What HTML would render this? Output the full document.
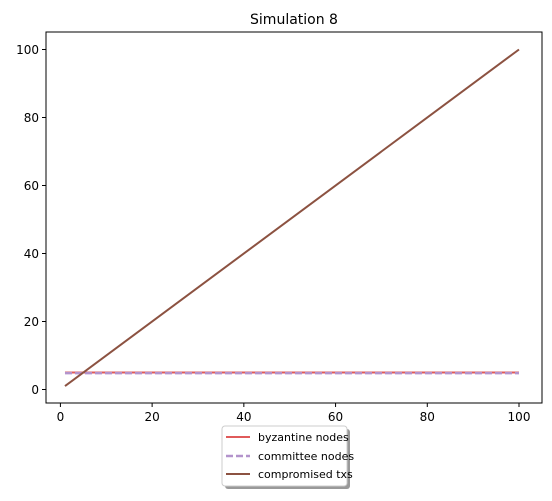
<!DOCTYPE html>
<html><head><meta charset="utf-8"><style>
body{margin:0;background:#fff;font-family:"Liberation Sans","DejaVu Sans",sans-serif}
svg text{font-family:"DejaVu Sans","Liberation Sans",sans-serif}
</style></head><body>
<svg id="c" width="552" height="496" xmlns="http://www.w3.org/2000/svg">
<text x="294" y="24" font-size="14" text-anchor="middle">Simulation 8</text>
<g id="plot"></g>
<rect x="46" y="32" width="496" height="371" fill="none" stroke="#000" stroke-width="1"/>
<g>
<rect x="225" y="429" width="125" height="60" rx="3" fill="#999"/>
<rect x="222" y="426" width="125" height="60" rx="3" fill="#fff" stroke="#ccc"/>
<line x1="226" y1="437" x2="250" y2="437" stroke="#e05a5a" stroke-width="2"/>
<text x="258" y="441" font-size="11">byzantine nodes</text>
<line x1="226" y1="456" x2="250" y2="456" stroke="#b393cc" stroke-width="2.5" stroke-dasharray="7,3"/>
<text x="258" y="460" font-size="11">committee nodes</text>
<line x1="226" y1="474" x2="250" y2="474" stroke="#8c5241" stroke-width="2"/>
<text x="258" y="478" font-size="11">compromised txs</text>
</g>
</svg>
<script>
const xTicks=[0,20,40,60,80,100];
const yTicks=[0,20,40,60,80,100];
const xs=[1,100];
const byzantine=[5,5];
const committee=[4.8,4.8];
const compromised=[1,100];
const sx=v=>60.4+v*4.586;
const sy=v=>389.5-v*3.4;
const g=document.getElementById('plot');
const NS='http://www.w3.org/2000/svg';
function mk(t,a){const e=document.createElementNS(NS,t);for(const k in a)e.setAttribute(k,a[k]);g.appendChild(e);return e;}
xTicks.forEach(v=>{
 const l=mk('line',{x1:sx(v),x2:sx(v),y1:403,y2:407,stroke:'#000'});
 
 
 const t=mk('text',{x:sx(v),y:421,'font-size':12,'text-anchor':'middle'});t.textContent=v;
 
 
});
yTicks.forEach(v=>{
 const l=mk('line',{x1:42,x2:46,y1:sy(v),y2:sy(v),stroke:'#000'});
 
 
 const t=mk('text',{x:39,y:sy(v)+4.5,'font-size':12,'text-anchor':'end'});t.textContent=v;
 
 
});
function line(arr,color,w,dash,name){
 const p=mk('polyline',{points:xs.map((x,i)=>sx(x)+','+sy(arr[i])).join(' '),fill:'none',stroke:color,'stroke-width':w});
 if(dash)p.setAttribute('stroke-dasharray',dash);
 
 
}
line(byzantine,'#e05a5a',2,null,'byzantine-nodes-line');
line(committee,'#b393cc',2.5,'7,3','committee-nodes-line');
line(compromised,'#8c5241',2,null,'compromised-txs-line');
</script>
</body></html>
